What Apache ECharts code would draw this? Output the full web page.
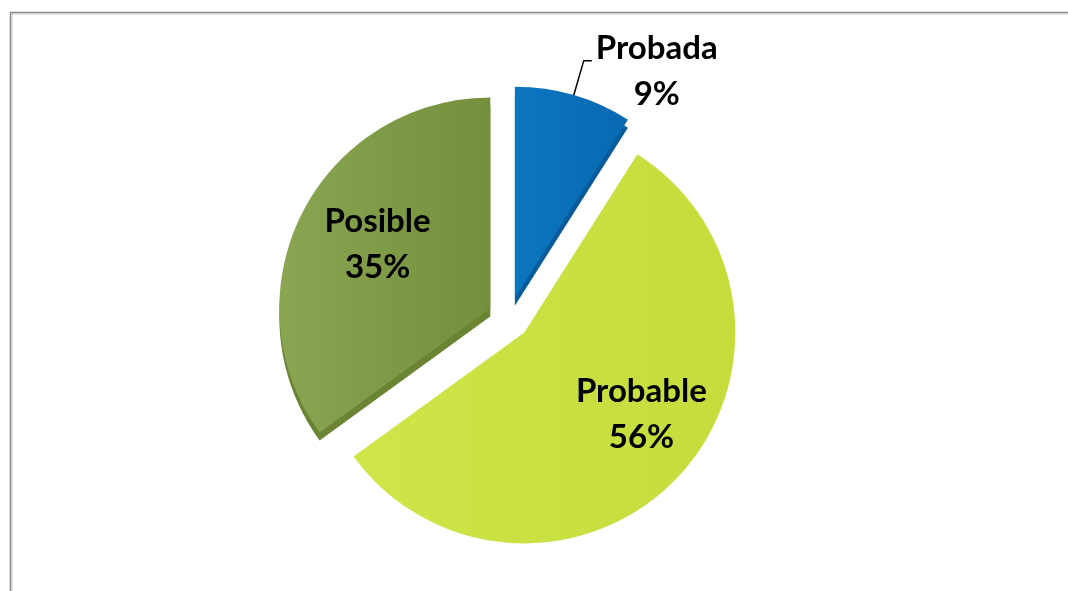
<!DOCTYPE html>
<html>
<head>
<meta charset="utf-8">
<style>
  html, body { margin: 0; padding: 0; background: #fff; }
  #chart { width: 1068px; height: 591px; }
</style>
<script src="https://cdn.jsdelivr.net/npm/echarts@6/dist/echarts.min.js"></script>
</head>
<body>
<div id="chart"></div>
<script>
// Reserve categories and their shares (percent)
const categories = ['Probada', 'Probable', 'Posible'];
const shares = [9, 56, 35];

// Face colours (left -> right gradient) and side-wall colours for the depth effect
const faceColors = [
  ['#0b76c0', '#0869b1'],
  ['#cfe548', '#c5dc3b'],
  ['#8aa653', '#758f3c']
];
const sideColors = ['#075b9b', 'rgba(0,0,0,0)', '#6a8434'];

// Label nudges for the inside labels (px)
const labelShift = [null, [38, 8], [-16, -15]];

const CENTER = [509, 318];
const RADIUS = 211;
const EXPLODE = 21;
const DEPTH = 8;

const faceData = categories.map((name, i) => ({
  name,
  value: shares[i],
  selected: true,
  itemStyle: {
    color: {
      type: 'linear', x: 0, y: 0, x2: 1, y2: 0,
      colorStops: [
        { offset: 0, color: faceColors[i][0] },
        { offset: 1, color: faceColors[i][1] }
      ]
    }
  },
  label: i === 0
    ? { position: 'outside', padding: [22, 0, 0, 0] }
    : { position: 'inside' },
  labelLine: { show: i === 0 }
}));

const sideData = categories.map((name, i) => ({
  name,
  value: shares[i],
  selected: true,
  itemStyle: { color: sideColors[i] }
}));

const chart = echarts.init(document.getElementById('chart'), null, { renderer: 'canvas' });

chart.setOption({
  animation: false,
  backgroundColor: '#ffffff',
  graphic: [
    { type: 'line', silent: true, shape: { x1: 10.5, y1: 12, x2: 10.5, y2: 591 }, style: { stroke: '#8a8a8a', lineWidth: 1.5 } },
    { type: 'line', silent: true, shape: { x1: 12, y1: 13, x2: 12, y2: 591 }, style: { stroke: '#c4c4c4', lineWidth: 1 } },
    { type: 'line', silent: true, shape: { x1: 10, y1: 12.5, x2: 1068, y2: 12.5 }, style: { stroke: '#8a8a8a', lineWidth: 1.5 } },
    { type: 'line', silent: true, shape: { x1: 12, y1: 14, x2: 1068, y2: 14 }, style: { stroke: '#c4c4c4', lineWidth: 1 } }
  ],
  series: [
    {
      // side walls showing under the faces
      type: 'pie',
      silent: true,
      z: 1,
      center: [CENTER[0], CENTER[1] + DEPTH],
      radius: RADIUS,
      startAngle: 90,
      clockwise: true,
      selectedMode: 'multiple',
      selectedOffset: EXPLODE,
      label: { show: false },
      labelLine: { show: false },
      emphasis: { disabled: true },
      data: sideData
    },
    {
      type: 'pie',
      z: 2,
      center: CENTER,
      radius: RADIUS,
      startAngle: 90,
      clockwise: true,
      selectedMode: 'multiple',
      selectedOffset: EXPLODE,
      emphasis: { disabled: true },
      label: {
        show: true,
        formatter: '{n|{b}}\n{n|{c}%}',
        distanceToLabelLine: 3,
        rich: {
          n: {
            fontFamily: 'Lato, "Noto Sans", sans-serif',
            fontWeight: 'bold',
            fontSize: 33,
            lineHeight: 46,
            color: '#000000',
            width: 124,
            align: 'center'
          }
        }
      },
      labelLine: {
        length: 36,
        length2: 8,
        smooth: false,
        lineStyle: { color: '#000000', width: 1.5 }
      },
      labelLayout: function (p) {
        const s = labelShift[p.dataIndex];
        return s ? { dx: s[0], dy: s[1] } : {};
      },
      data: faceData
    }
  ]
});
</script>
</body>
</html>
